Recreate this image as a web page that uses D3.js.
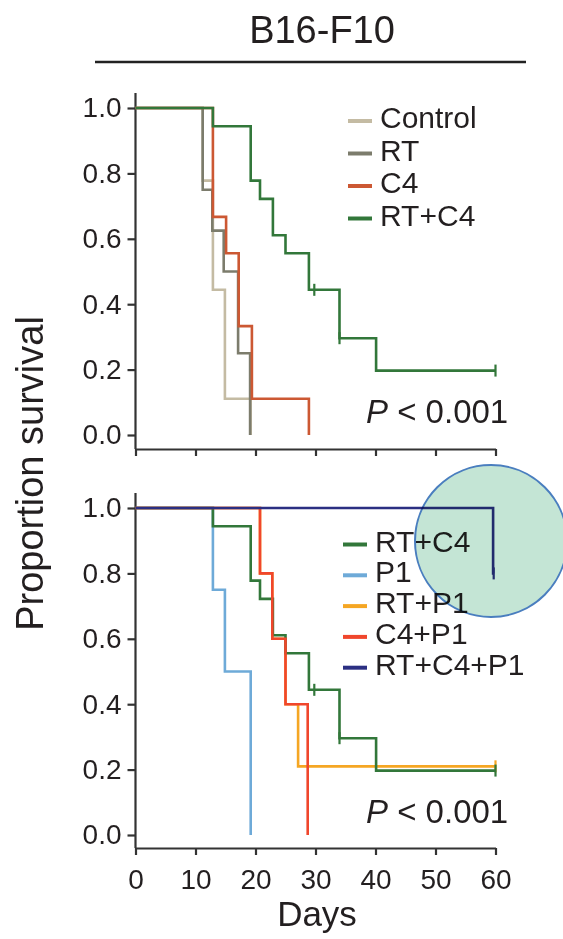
<!DOCTYPE html>
<html>
<head>
<meta charset="utf-8">
<script src="https://cdn.jsdelivr.net/npm/d3@7"></script>
<style>
  body { margin: 0; background: #fff; }
  text { font-family: 'Liberation Sans', Arial, sans-serif; fill: #231f20; }
</style>
</head>
<body>
<script>
// ticks
const dayTicks = [0, 10, 20, 30, 40, 50, 60];
const survTicks = [0, 0.2, 0.4, 0.6, 0.8, 1.0];

// bovenste paneel
const controlDays = [0, 11.2, 12.9, 14.9, 19.2];
const controlSurv = [1, 0.778, 0.444, 0.111, 0];
const rtDays = [0, 11.2, 12.8, 14.7, 17.1, 19.1];
const rtSurv = [1, 0.75, 0.625, 0.5, 0.25, 0];
const c4Days = [0, 12.9, 15.1, 17.2, 19.4, 28.9];
const c4Surv = [1, 0.667, 0.556, 0.333, 0.111, 0];
const rtc4Days = [0, 12.9, 19.2, 20.75, 22.9, 25, 28.9, 34, 40.1, 60];
const rtc4Surv = [1, 0.944, 0.778, 0.722, 0.611, 0.556, 0.444, 0.296, 0.197, 0.197];
const rtc4Censor = [29.8, 34, 60];

// onderste paneel
const p1Days = [0, 12.9, 14.9, 19.2];
const p1Surv = [1, 0.75, 0.5, 0];
const rtp1Days = [0, 20.75, 22.8, 25, 27.1, 60];
const rtp1Surv = [1, 0.8, 0.6, 0.4, 0.21, 0.21];
const rtp1Censor = [60];
const c4p1Days = [0, 20.75, 22.8, 25, 28.7];
const c4p1Surv = [1, 0.8, 0.6, 0.4, 0];
const allDays = [0, 59.6, 59.7];
const allSurv = [1, 0.8, 0.8];
const allCensor = [59.7];

const topSeries = [
  { name: 'Control', days: controlDays, surv: controlSurv, censor: [], color: '#c4bba3' },
  { name: 'RT', days: rtDays, surv: rtSurv, censor: [], color: '#7c7c6c' },
  { name: 'C4', days: c4Days, surv: c4Surv, censor: [], color: '#cc5833' },
  { name: 'RT+C4', days: rtc4Days, surv: rtc4Surv, censor: rtc4Censor, color: '#32773a' }
];
const bottomSeries = [
  { name: 'P1', days: p1Days, surv: p1Surv, censor: [], color: '#6eaad8' },
  { name: 'RT+P1', days: rtp1Days, surv: rtp1Surv, censor: rtp1Censor, color: '#f5a623' },
  { name: 'RT+C4', days: rtc4Days, surv: rtc4Surv, censor: rtc4Censor, color: '#32773a' },
  { name: 'C4+P1', days: c4p1Days, surv: c4p1Surv, censor: [], color: '#f0462c' },
  { name: 'RT+C4+P1', days: allDays, surv: allSurv, censor: allCensor, color: '#2b2f82' }
];
const bottomLegend = ['RT+C4', 'P1', 'RT+P1', 'C4+P1', 'RT+C4+P1'];

const svg = d3.select('body').append('svg')
  .attr('width', 563)
  .attr('height', 939);

const x = d3.scaleLinear().domain([0, 60]).range([135.5, 495.5]);

const panels = [
  { y: d3.scaleLinear().domain([0, 1]).range([435, 108]), axisY: 449, series: topSeries,
    legend: topSeries.map(s => s.name), legX: 348, legY: 128, legStep: 32.5, pY: 423, labels: false },
  { y: d3.scaleLinear().domain([0, 1]).range([835, 508]), axisY: 848, series: bottomSeries,
    legend: bottomLegend, legX: 343, legY: 551.5, legStep: 30.8, pY: 823, labels: true }
];

// titel
svg.append('text')
  .attr('x', 322).attr('y', 43)
  .attr('text-anchor', 'middle')
  .attr('font-size', 38)
  .text('B16-F10');
svg.append('line')
  .attr('x1', 95).attr('x2', 526).attr('y1', 62).attr('y2', 62)
  .attr('stroke', '#222').attr('stroke-width', 2.5);

panels.forEach(p => drawPanel(p));

function stepValue(s, t) {
  let v = s.surv[0];
  s.days.forEach((d, i) => { if (d <= t) v = s.surv[i]; });
  return v;
}

function drawPanel(p) {
  const g = svg.append('g');
  const y = p.y;

  // y as
  g.append('line')
    .attr('x1', x(0)).attr('x2', x(0))
    .attr('y1', y(1) - 15).attr('y2', p.axisY)
    .attr('stroke', '#333').attr('stroke-width', 2.2);
  const ya = g.append('g')
    .attr('transform', `translate(${x(0)},0)`)
    .call(d3.axisLeft(y).tickValues(survTicks).tickFormat(d3.format('.1f')).tickSize(8).tickPadding(6));
  ya.select('.domain').remove();
  ya.attr('font-size', 28).attr('font-family', null);
  ya.selectAll('line').attr('stroke', '#333').attr('stroke-width', 2.2);
  ya.selectAll('text').attr('fill', '#231f20');

  // x as
  const xa = g.append('g')
    .attr('transform', `translate(0,${p.axisY})`)
    .call(d3.axisBottom(x).tickValues(dayTicks).tickSize(7).tickSizeOuter(0).tickPadding(14)
      .tickFormat(p.labels ? d3.format('d') : ''));
  xa.attr('font-size', 28).attr('font-family', null);
  xa.selectAll('line, path').attr('stroke', '#333').attr('stroke-width', 2.2);
  xa.selectAll('text').attr('fill', '#231f20');

  // curves
  const line = d3.line()
    .x(d => x(d[0]))
    .y(d => y(d[1]))
    .curve(d3.curveStepAfter);

  p.series.forEach(s => {
    const pts = s.days.map((d, i) => [d, s.surv[i]]);
    g.append('path')
      .attr('d', line(pts))
      .attr('fill', 'none')
      .attr('stroke', s.color)
      .attr('stroke-width', 2.6);
    g.selectAll(null)
      .data(s.censor).enter()
      .append('line')
      .attr('x1', d => x(d)).attr('x2', d => x(d))
      .attr('y1', d => y(stepValue(s, d)) - 6)
      .attr('y2', d => y(stepValue(s, d)) + 6)
      .attr('stroke', s.color)
      .attr('stroke-width', 2.2);
  });

  // legenda
  p.legend.forEach((name, i) => {
    const s = p.series.find(d => d.name === name);
    const by = p.legY + i * p.legStep;
    g.append('line')
      .attr('x1', p.legX).attr('x2', p.legX + 24)
      .attr('y1', by - 7).attr('y2', by - 7)
      .attr('stroke', s.color).attr('stroke-width', 4);
    g.append('text')
      .attr('x', p.legX + 32).attr('y', by)
      .attr('font-size', 30)
      .text(name);
  });

  // p-waarde
  const pt = g.append('text')
    .attr('x', 366).attr('y', p.pY)
    .attr('font-size', 33);
  pt.append('tspan').attr('font-style', 'italic').text('P');
  pt.append('tspan').text(' < 0.001');
}

// as titels
svg.append('text')
  .attr('transform', 'translate(43,473.5) rotate(-90)')
  .attr('text-anchor', 'middle')
  .attr('font-size', 38)
  .text('Proportion survival');
svg.append('text')
  .attr('x', 317).attr('y', 926)
  .attr('text-anchor', 'middle')
  .attr('font-size', 35)
  .text('Days');

// markering
svg.append('circle')
  .attr('cx', 491).attr('cy', 541).attr('r', 76)
  .attr('fill', '#c4e5d5')
  .style('mix-blend-mode', 'multiply')
  .attr('stroke', '#4a7ebf').attr('stroke-width', 2);
</script>
</body>
</html>
